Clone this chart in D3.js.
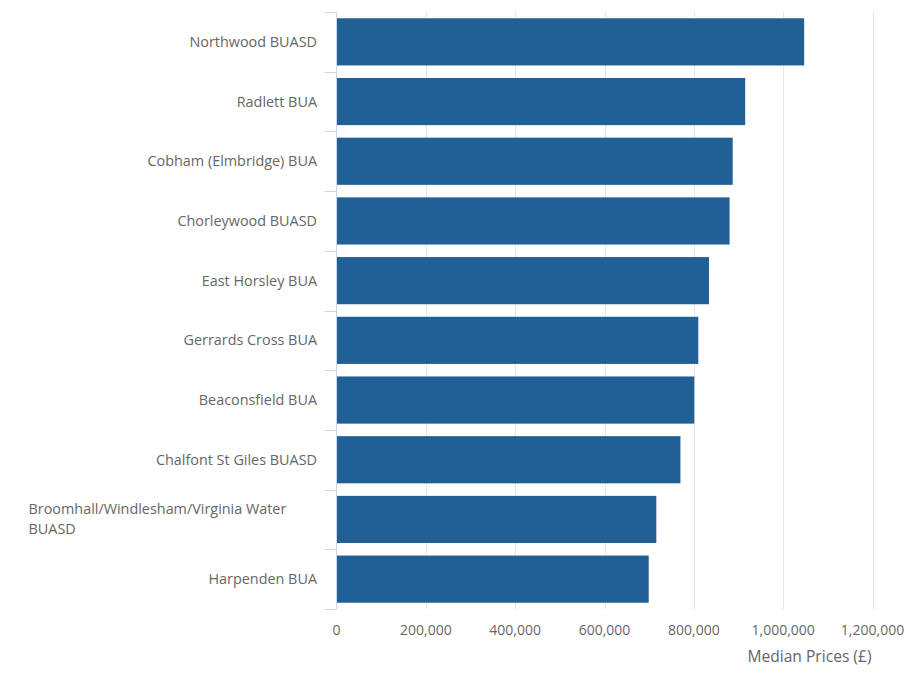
<!DOCTYPE html>
<html><head><meta charset="utf-8">
<script src="https://cdn.jsdelivr.net/npm/d3@7"></script>
<style>body{margin:0;background:#fff;} svg{display:block;font-family:"Open Sans",sans-serif;}</style>
</head><body>
<svg id="c" width="921" height="682"></svg>
<script>
const categories = ["Northwood BUASD","Radlett BUA","Cobham (Elmbridge) BUA","Chorleywood BUASD","East Horsley BUA","Gerrards Cross BUA","Beaconsfield BUA","Chalfont St Giles BUASD","Broomhall/Windlesham/Virginia Water BUASD","Harpenden BUA"];
const values = [1047000, 915000, 887000, 880000, 834000, 810000, 801000, 770000, 716000, 699000];
const xTicks = [0, 200000, 400000, 600000, 800000, 1000000, 1200000];
const xTitle = "Median Prices (£)";

const svg = d3.select("#c");
const m = {left: 336.5, right: 872.5, top: 12, bottom: 609};
const x = d3.scaleLinear().domain([0, 1200000]).range([m.left, m.right]);
const y = d3.scaleBand().domain(categories).range([m.top, m.bottom]).paddingInner(0.21).paddingOuter(0.105);

// gridlines
svg.append("g").selectAll("line").data(xTicks.slice(1)).join("line")
  .attr("x1", d => Math.round(x(d)) + 0.5).attr("x2", d => Math.round(x(d)) + 0.5)
  .attr("y1", m.top).attr("y2", m.bottom)
  .attr("stroke", "#e6e6e6").attr("stroke-width", 1);

// bars
svg.append("g").selectAll("rect").data(categories).join("rect")
  .attr("x", x(0)).attr("y", d => y(d))
  .attr("width", (d, i) => x(values[i]) - x(0))
  .attr("height", y.bandwidth())
  .attr("fill", "#206095");

// y axis line and ticks
const yAxisG = svg.append("g");
yAxisG.append("line").attr("x1", m.left).attr("x2", m.left).attr("y1", m.top).attr("y2", m.bottom)
  .attr("stroke", "#ccd6eb");
const bounds = categories.map(c => y(c) - y.step() * y.paddingInner() / 2).concat([m.bottom]);
yAxisG.selectAll("line.t").data(bounds).join("line").attr("class", "t")
  .attr("x1", m.left - 12).attr("x2", m.left)
  .attr("y1", d => Math.round(d) + 0.5).attr("y2", d => Math.round(d) + 0.5)
  .attr("stroke", "#ccd6eb");

// y labels
const lab = svg.append("g").attr("font-size", 14.4).attr("fill", "#666666");
categories.forEach(c => {
  const cy = y(c) + y.bandwidth() / 2;
  if (c.length > 30) {
    const i = c.lastIndexOf(" ");
    const lines = [c.slice(0, i), c.slice(i + 1)];
    const t = lab.append("text").attr("x", m.left - 308).attr("text-anchor", "start");
    lines.forEach((l, k) => t.append("tspan").attr("x", m.left - 308)
      .attr("y", cy + (k - (lines.length - 1) / 2) * 20).attr("dy", "0.35em").text(l));
  } else {
    lab.append("text").attr("x", m.left - 19.5).attr("y", cy).attr("dy", "0.35em")
      .attr("text-anchor", "end").text(c);
  }
});

// x axis labels
const xf = d3.format(",");
svg.append("g").attr("font-size", 14).attr("fill", "#666666").selectAll("text").data(xTicks).join("text")
  .attr("x", d => x(d)).attr("y", 630).attr("dy", "0.35em").attr("text-anchor", "middle")
  .text(d => xf(d));

svg.append("text").attr("x", m.right - 1).attr("y", 657).attr("dy", "0.35em")
  .attr("text-anchor", "end").attr("font-size", 15.6).attr("fill", "#666666").text(xTitle);
</script>
</body></html>
